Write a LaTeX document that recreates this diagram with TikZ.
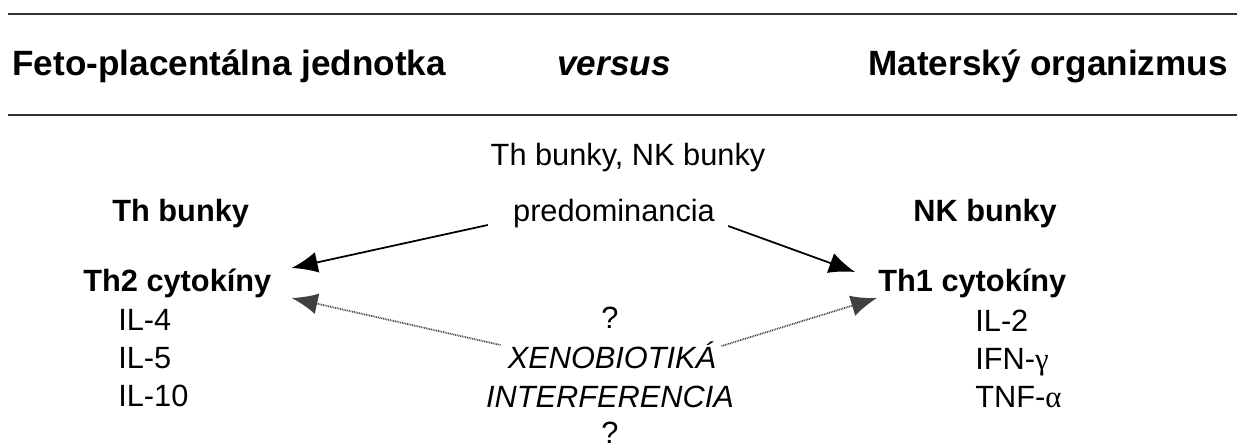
\documentclass[tikz,border=0pt]{standalone}
\usepackage{fontspec}
\setmainfont{Liberation Sans}
\newfontfamily\symgreek{Liberation Serif}
\usetikzlibrary{positioning,arrows.meta,calc}
\tikzset{
  head/.style={font=\fontsize{20}{24}\selectfont\bfseries,inner sep=0pt},
  title/.style={font=\fontsize{17.5}{21}\selectfont\bfseries,inner sep=0pt},
  plain/.style={font=\fontsize{17.5}{21}\selectfont,inner sep=0pt},
  xeno/.style={font=\fontsize{17.5}{21}\selectfont\itshape,inner sep=0pt},
  rule/.style={draw=black!80,line width=1.1pt},
  flow/.style={-{Latex[length=5.2mm,width=4.2mm]},line width=1pt},
  dotflow/.style={-{Latex[length=5.2mm,width=4.2mm]},draw=black!75,line width=1pt,dash pattern=on 0.5pt off 0.5pt}}

\begin{document}
\begin{tikzpicture}[x=0.02cm,y=-0.02cm]
  \useasboundingbox (0,0) rectangle (1237,448);
  % header between two rules
  \draw[rule] (8,14) -- (1237,14);
  \draw[rule] (8,115) -- (1237,115);
  \node[head,anchor=base west] (feto) at (12,76) {Feto-placentálna jednotka};
  \node[head,anchor=base] (vs) at (614,76) {\itshape versus};
  \node[head,anchor=base east] (mat) at (1228,76) {Materský organizmus};
  % cells
  \node[plain,anchor=base] (cells) at (628,166) {Th bunky, NK bunky};
  \node[title,anchor=base west] (th) at (112,222) {Th bunky};
  \node[plain,anchor=base] (pred) at (614,222) {predominancia};
  \node[title,anchor=base west] (nk) at (913,222) {NK bunky};
  % cytokines
  \node[title,anchor=base west] (th2) at (83,292) {Th2 cytokíny};
  \node[title,anchor=base west] (th1) at (878,292) {Th1 cytokíny};
  \foreach \t [count=\i] in {IL-4,IL-5,IL-10}
    \node[plain,anchor=base west] (l\i) at (118,293+38*\i) {\t};
  \foreach \t [count=\i] in {IL-2,{IFN-{\symgreek γ}},{TNF-{\symgreek α}}}
    \node[plain,anchor=base west] (r\i) at (975,294+38*\i) {\t};
  % xenobiotics
  \node[plain,anchor=base] (q1) at (610,329) {?};
  \node[xeno,anchor=base] (xeno) at (612,369) {XENOBIOTIKÁ};
  \node[xeno,anchor=base] (intf) at (610,408) {INTERFERENCIA};
  \node[plain,anchor=base] (q2) at (610,444) {?};
  % arrows
  \draw[flow] ($(pred.base west)+(-25,3)$) -- ($(th2.base east)+(20,-24)$);
  \draw[flow] ($(pred.base east)+(13,4)$) -- ($(th1.base west)+(-23,-20)$);
  \draw[dotflow] ($(xeno.base west)+(-7,-24)$) -- ($(th2.base east)+(20,6)$);
  \draw[dotflow] ($(xeno.base east)+(5,-23)$) -- ($(th1.base west)+(-1,6)$);
\end{tikzpicture}
\end{document}
